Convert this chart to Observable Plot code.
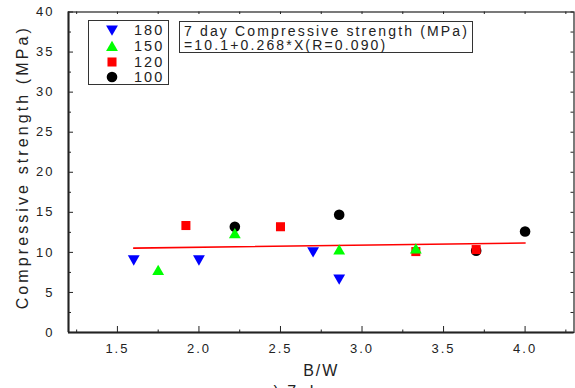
<!DOCTYPE html>
<html><head><meta charset="utf-8">
<script src="https://cdn.jsdelivr.net/npm/d3@7"></script>
<script src="https://cdn.jsdelivr.net/npm/@observablehq/plot@0.6"></script>
<style>
body{margin:0;background:#fff;}
#wrap{position:relative;width:575px;height:388px;overflow:hidden;font-family:"Liberation Sans",Arial,sans-serif;color:#222;}
#wrap svg.plot{position:absolute;left:0;top:0;}
.box{position:absolute;border:1.5px solid #333;background:#fff;box-sizing:border-box;}
.lg-row{position:absolute;left:0;height:16px;width:100%;}
.lg-row svg{position:absolute;left:15px;top:0;}
.lg-row span{position:absolute;left:45px;top:0;font-size:14.5px;line-height:16px;letter-spacing:2px;}
.eq{position:absolute;left:4px;font-size:14px;line-height:15px;letter-spacing:2.15px;white-space:nowrap;}
</style></head><body><div id="wrap"></div><script>
// ---- data ----
const seriesNames = ["180", "150", "120", "100"];
const bw180 = [1.6, 2.0, 2.7, 2.86];
const cs180 = [9.2, 9.2, 10.2, 6.8];
const bw150 = [1.75, 2.22, 2.86, 3.33];
const cs150 = [7.6, 12.2, 10.15, 10.3];
const bw120 = [1.92, 2.5, 3.33, 3.7];
const cs120 = [13.35, 13.2, 10.1, 10.35];
const bw100 = [2.22, 2.86, 3.7, 4.0];
const cs100 = [13.2, 14.7, 10.2, 12.6];
const fitIntercept = 10.1, fitSlope = 0.268, fitR = 0.090;
const fitRange = [1.6, 4.0];
const xTicks = [1.5, 2.0, 2.5, 3.0, 3.5, 4.0];
const yTicks = [0, 5, 10, 15, 20, 25, 30, 35, 40];
const xDomain = [1.2, 4.3], yDomain = [0, 40];
const xTitle = "B/W", yTitle = "Compressive strength (MPa)";
const eqLine1 = "7 day Compressive strength (MPa)";
const eqLine2 = `=${fitIntercept}+${fitSlope}*X(R=${fitR.toFixed(3)})`;
const caption = "a) 7 day";

// ---- styles ----
const colors = {"180": "#0000ff", "150": "#00ff00", "120": "#ff0000", "100": "#000000"};
const symbols = {"180": "triangle", "150": "triangle", "120": "square", "100": "circle"};
const rotations = {"180": 180, "150": 0, "120": 0, "100": 0};
const radii = {"180": 4.4, "150": 4.4, "120": 5.1, "100": 5.3};

const W = 575, H = 388, mL = 68, mR = 1.5, mT = 11.5, mB = 56;
const pxX = (W - mL - mR) / (xDomain[1] - xDomain[0]);
const pxY = (H - mT - mB) / (yDomain[1] - yDomain[0]);

const bySeries = {"180": [bw180, cs180], "150": [bw150, cs150], "120": [bw120, cs120], "100": [bw100, cs100]};
const drawOrder = ["100", "120", "150", "180"];
const dotMarks = drawOrder.map(s => {
  const [xs, ys] = bySeries[s];
  const data = xs.map((x, i) => ({x, y: ys[i]}));
  return Plot.dot(data, {x: "x", y: "y", symbol: () => symbols[s], fill: colors[s], stroke: "none", r: radii[s], rotate: rotations[s]});
});

const fitData = fitRange.map(x => ({x, y: fitIntercept + fitSlope * x}));

const quarter = d3.range(1.25, 4.3001, 0.25).map(v => +v.toFixed(2));
const xMinor = quarter.filter(v => !xTicks.includes(v));
const yAll = d3.range(0, 40.001, 2.5);
const yMinor = yAll.filter(v => !yTicks.includes(v));
const tk = "#222";

const plot = Plot.plot({
  width: W, height: H, marginLeft: mL, marginRight: mR, marginTop: mT, marginBottom: mB,
  x: {domain: xDomain}, y: {domain: yDomain},
  style: {fontFamily: '"Liberation Sans", Arial, sans-serif', fontSize: "13px", color: "#222", background: "transparent", letterSpacing: "2px"},
  marks: [
    Plot.axisX(xTicks, {tickSize: 0, tickPadding: 11, tickFormat: d3.format(".1f"), label: null, fontSize: 13}),
    Plot.axisY(yTicks, {tickSize: 0, tickPadding: 14, label: null, fontSize: 13}),
    // inward ticks
    Plot.ruleX(xTicks, {x: d => d, y1: yDomain[0], y2: yDomain[0] + 6 / pxY, stroke: tk}),
    Plot.ruleX(xMinor, {x: d => d, y1: yDomain[0], y2: yDomain[0] + 2.5 / pxY, stroke: tk}),
    Plot.ruleX(quarter, {x: d => d, y1: yDomain[1], y2: yDomain[1] - 2.5 / pxY, stroke: tk}),
    Plot.ruleY(yTicks, {y: d => d, x1: xDomain[0], x2: xDomain[0] + 5 / pxX, stroke: tk}),
    Plot.ruleY(yMinor, {y: d => d, x1: xDomain[0], x2: xDomain[0] + 3 / pxX, stroke: tk}),
    Plot.ruleY(yAll, {y: d => d, x1: xDomain[1], x2: xDomain[1] - 3 / pxX, stroke: tk}),
    Plot.frame({stroke: tk, strokeWidth: 1.2}),
    Plot.ruleY([yDomain[0]], {stroke: tk, strokeWidth: 2}),
    Plot.ruleX([xDomain[0]], {stroke: tk, strokeWidth: 2}),
    Plot.line(fitData, {x: "x", y: "y", stroke: "#ff0000", strokeWidth: 1.6}),
    ...dotMarks,
    Plot.text([xTitle], {frameAnchor: "bottom", dy: 43, fontSize: 16, fill: "#222"}),
    Plot.text([yTitle], {frameAnchor: "left", textAnchor: "middle", rotate: -90, dx: -46, dy: -5, fontSize: 16, fill: "#222"}),
    Plot.text([caption], {frameAnchor: "bottom-left", textAnchor: "start", lineAnchor: "top", dx: 194, dy: 53, fontSize: 16, fill: "#222"})
  ]
});
plot.classList.add("plot");
d3.select(plot).selectAll("text").filter(function() { return this.textContent === yTitle; })
  .style("letter-spacing", "3.1px");
const wrap = document.getElementById("wrap");
wrap.appendChild(plot);

// legend box
const lg = document.createElement("div");
lg.className = "box";
Object.assign(lg.style, {left: "88px", top: "20px", width: "81px", height: "65px"});
const rowTops = [1, 16.5, 32.5, 48];
seriesNames.forEach((s, i) => {
  const row = document.createElement("div");
  row.className = "lg-row";
  row.style.top = rowTops[i] + "px";
  const svg = d3.create("svg").attr("width", 16).attr("height", 16);
  const area = Math.PI * radii[s] * radii[s];
  const symType = {triangle: d3.symbolTriangle, square: d3.symbolSquare, circle: d3.symbolCircle}[symbols[s]];
  svg.append("path").attr("d", d3.symbol(symType, area)())
    .attr("transform", `translate(8,${s === "180" ? 7 : s === "150" ? 9.5 : 8}) rotate(${rotations[s]})`)
    .attr("fill", colors[s]);
  row.appendChild(svg.node());
  const sp = document.createElement("span");
  sp.textContent = s;
  row.appendChild(sp);
  lg.appendChild(row);
});
wrap.appendChild(lg);

// equation box
const eq = document.createElement("div");
eq.className = "box";
Object.assign(eq.style, {left: "179px", top: "21px", width: "294px", height: "32px"});
[eqLine1, eqLine2].forEach((t, i) => {
  const d = document.createElement("div");
  d.className = "eq";
  d.style.top = (i === 0 ? 1.5 : 16) + "px";
  d.textContent = t;
  eq.appendChild(d);
});
wrap.appendChild(eq);
</script></body></html>
